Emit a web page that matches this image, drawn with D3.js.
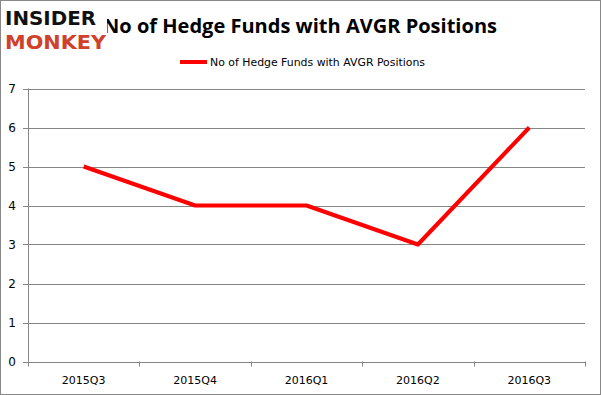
<!DOCTYPE html>
<html lang="en">
<head>
    <meta charset="UTF-8">
    <title>AVGR Hedge Funds</title>
    <script src="https://d3js.org/d3.v7.min.js"></script>
    <style>
        body { margin: 0; background: #fff; }
        svg { display: block; }
    </style>
</head>
<body>
    <div id="chart"></div>
    <script>
        const quarters = ["2015Q3", "2015Q4", "2016Q1", "2016Q2", "2016Q3"];
        const fundCounts = [5, 4, 4, 3, 6];
        const yTicks = [0, 1, 2, 3, 4, 5, 6, 7];
        const seriesName = "No of Hedge Funds with AVGR Positions";

        const width = 601, height = 395;
        const margin = { top: 88.5, right: 16, bottom: 33.5, left: 28 };

        const svg = d3.select("#chart").append("svg")
            .attr("width", width)
            .attr("height", height);

        // outer frame
        svg.append("rect")
            .attr("x", 0.5).attr("y", 0.5)
            .attr("width", width - 1).attr("height", height - 1)
            .attr("fill", "#fff")
            .attr("stroke", "#888");

        const x = d3.scaleBand()
            .domain(quarters)
            .range([margin.left, width - margin.right]);

        const y = d3.scaleLinear()
            .domain([0, 7])
            .range([height - margin.bottom, margin.top]);

        // gridlines
        svg.append("g")
            .selectAll("line")
            .data(yTicks)
            .enter().append("line")
            .attr("x1", margin.left - 5)
            .attr("x2", width - margin.right)
            .attr("y1", d => Math.round(y(d)) + 0.5)
            .attr("y2", d => Math.round(y(d)) + 0.5)
            .attr("stroke", "#868686");

        // y axis line
        svg.append("line")
            .attr("x1", margin.left + 0.5).attr("x2", margin.left + 0.5)
            .attr("y1", y(7)).attr("y2", y(0))
            .attr("stroke", "#868686");

        // y labels
        svg.append("g")
            .selectAll("text")
            .data(yTicks)
            .enter().append("text")
            .attr("x", 16)
            .attr("y", d => y(d) + 4.5)
            .attr("text-anchor", "end")
            .style("font-family", "DejaVu Sans, Verdana, sans-serif")
            .style("font-size", "12px")
            .attr("fill", "#000")
            .text(d => d);

        // x ticks at band edges
        const edges = quarters.map(q => x(q)).concat([x.range()[1]]);
        svg.append("g")
            .selectAll("line")
            .data(edges)
            .enter().append("line")
            .attr("x1", d => Math.round(d) + 0.5)
            .attr("x2", d => Math.round(d) + 0.5)
            .attr("y1", y(0))
            .attr("y2", y(0) + 5)
            .attr("stroke", "#868686");

        // x labels
        svg.append("g")
            .selectAll("text")
            .data(quarters)
            .enter().append("text")
            .attr("x", d => x(d) + x.bandwidth() / 2)
            .attr("y", y(0) + 22)
            .attr("text-anchor", "middle")
            .style("font-family", "DejaVu Sans, Verdana, sans-serif")
            .style("font-size", "11px")
            .attr("fill", "#000")
            .text(d => d);

        // series line
        const line = d3.line()
            .x((d, i) => x(quarters[i]) + x.bandwidth() / 2)
            .y(d => y(d));

        svg.append("path")
            .datum(fundCounts)
            .attr("d", line)
            .attr("fill", "none")
            .attr("stroke", "#ff0000")
            .attr("stroke-width", 4)
            .attr("stroke-linejoin", "round");

        // title
        svg.append("text")
            .attr("x", 300)
            .attr("y", 33)
            .attr("text-anchor", "middle")
            .style("font-family", "Open Sans, Liberation Sans, sans-serif")
            .style("font-weight", "bold")
            .style("font-size", "20px")
            .attr("textLength", 394)
            .attr("lengthAdjust", "spacingAndGlyphs")
            .text(seriesName);

        // legend
        svg.append("line")
            .attr("x1", 180).attr("x2", 207)
            .attr("y1", 62).attr("y2", 62)
            .attr("stroke", "#ff0000")
            .attr("stroke-width", 4);
        svg.append("text")
            .attr("x", 210)
            .attr("y", 66)
            .style("font-family", "DejaVu Sans, Verdana, sans-serif")
            .style("font-size", "11px")
            .attr("textLength", 215)
            .attr("lengthAdjust", "spacingAndGlyphs")
            .text(seriesName);

        // logo
        const logo = svg.append("g");
        logo.append("rect")
            .attr("x", 3).attr("y", 6)
            .attr("width", 104).attr("height", 46)
            .attr("fill", "#fff");
        logo.append("text")
            .attr("x", 5).attr("y", 25)
            .style("font-family", "DejaVu Sans, sans-serif")
            .style("font-weight", "bold")
            .style("font-size", "20px")
            .attr("textLength", 91)
            .attr("lengthAdjust", "spacingAndGlyphs")
            .attr("fill", "#111")
            .text("INSIDER");
        logo.append("text")
            .attr("x", 5).attr("y", 49)
            .style("font-family", "DejaVu Sans, sans-serif")
            .style("font-weight", "bold")
            .style("font-size", "20px")
            .attr("textLength", 101)
            .attr("lengthAdjust", "spacingAndGlyphs")
            .attr("fill", "#d0402b")
            .text("MONKEY");
    </script>
</body>
</html>
